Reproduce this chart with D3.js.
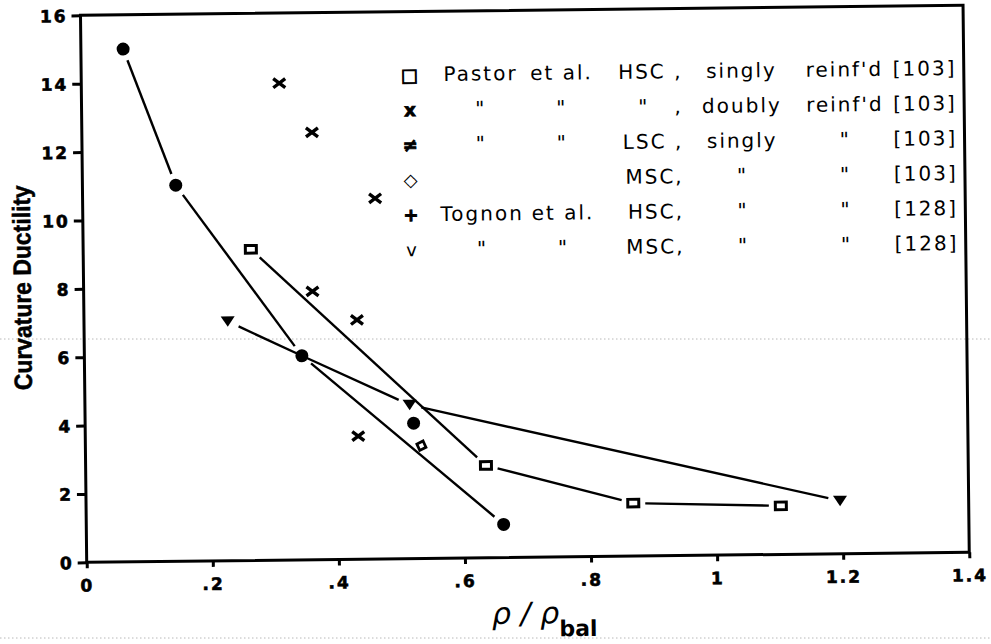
<!DOCTYPE html>
<html>
<head>
<meta charset="utf-8">
<script src="https://cdn.jsdelivr.net/npm/d3@7"></script>
<style>
  html, body { margin: 0; padding: 0; background: #fff; }
  svg { display: block; }
  .tick text { font-family: "DejaVu Sans", sans-serif; font-weight: bold; font-size: 17px; letter-spacing: 2px; fill: #000; stroke: #000; stroke-width: 0.6px; }
  .tick line { stroke: #000; stroke-width: 3; }
  .legend text { font-family: "DejaVu Sans", sans-serif; font-size: 20px; letter-spacing: 2px; white-space: pre; fill: #000; }
</style>
</head>
<body>
<svg id="chart" width="991" height="644"></svg>
<script>
// values: x = rho / rho_bal, y = curvature ductility
const pastorHscSingly = [[0.266, 9.1], [0.635, 2.7], [0.868, 1.55], [1.102, 1.42]];
const pastorHscDoubly = [[0.314, 13.95], [0.365, 12.5], [0.464, 10.55], [0.363, 7.85], [0.433, 7.0], [0.433, 3.6]];
const pastorLsc = [[0.521, 3.96]];
const pastorMsc = [[0.533, 3.3]];
const tognonHsc = [[0.067, 15.0], [0.148, 11.0], [0.345, 5.97], [0.662, 0.97]];
const tognonMsc = [[0.228, 7.0], [0.345, 5.97], [0.515, 4.5], [1.196, 1.55]];
const tognonMscHidden = [1]; // this one sits under a dot, no marker of its own

const xTicks = [0, 0.2, 0.4, 0.6, 0.8, 1, 1.2, 1.4];
const yTicks = [0, 2, 4, 6, 8, 10, 12, 14, 16];

const legendSymbols  = ["\u25a1", "x", "\u2260", "\u25c7", "+", "v"];
const legendAuthors  = ["Pastor", "\"", "\"", "", "Tognon", "\""];
const legendEtAl     = ["et al.", "\"", "\"", "", "et al.", "\""];
const legendConcrete = ["HSC ,", "\"   ,", "LSC ,", "MSC,", "HSC,", "MSC,"];
const legendSteel    = ["singly", "doubly", "singly", "\"", "\"", "\""];
const legendReinf    = ["reinf'd", "reinf'd", "\"", "\"", "\"", "\""];
const legendRefs     = ["[103]", "[103]", "[103]", "[103]", "[128]", "[128]"];

const yLabel = "Curvature Ductility";

// ---- layout
const margin = { left: 86.7, top: 15.3 };
const width = 882.6, height = 547;
const tilt = -0.65; // the scan is a little crooked

const svg = d3.select("#chart");

// faint dotted lines from the scan
svg.selectAll(".scanline")
    .data([339, 638])
    .enter().append("line")
        .attr("class", "scanline")
        .attr("x1", 0).attr("x2", 991)
        .attr("y1", d => d).attr("y2", d => d)
        .attr("stroke", "#b8b8b8")
        .attr("stroke-width", 1)
        .attr("stroke-dasharray", "1.5,2.5");

const g = svg.append("g")
    .attr("transform", `rotate(${tilt}, ${margin.left}, ${margin.top + height}) translate(${margin.left},${margin.top})`);

const x = d3.scaleLinear().domain([0, 1.4]).range([0, width]);
const y = d3.scaleLinear().domain([0, 16]).range([height, 0]);

const fmtX = d => d === 0 ? "0" : String(+d.toFixed(1)).replace(/^0\./, ".");

g.append("g")
    .attr("transform", `translate(0,${height})`)
    .call(d3.axisBottom(x).tickValues(xTicks).tickSize(6).tickSizeOuter(0).tickPadding(11).tickFormat(fmtX))
    .call(a => a.select(".domain").remove());

g.append("g")
    .call(d3.axisLeft(y).tickValues(yTicks).tickSize(9).tickSizeOuter(0).tickPadding(4).tickFormat(d3.format("d")))
    .call(a => a.select(".domain").remove())
    .selectAll(".tick text").attr("dy", "0.36em");

g.append("rect")
    .attr("width", width)
    .attr("height", height)
    .attr("fill", "none")
    .attr("stroke", "#000")
    .attr("stroke-width", 3);

// ---- connecting lines, broken off short of each marker
const gap = 12;
function segments(points, hidden) {
    hidden = hidden || [];
    let segs = [];
    for (let i = 0; i < points.length - 1; i++) {
        let x0 = x(points[i][0]), y0 = y(points[i][1]);
        let x1 = x(points[i + 1][0]), y1 = y(points[i + 1][1]);
        let len = Math.hypot(x1 - x0, y1 - y0);
        let ux = (x1 - x0) / len, uy = (y1 - y0) / len;
        let g0 = hidden.includes(i) ? 0 : gap;
        let g1 = hidden.includes(i + 1) ? 0 : gap;
        segs.push([x0 + ux * g0, y0 + uy * g0, x1 - ux * g1, y1 - uy * g1]);
    }
    return segs;
}

const allSegs = segments(pastorHscSingly)
    .concat(segments(tognonHsc))
    .concat(segments(tognonMsc, tognonMscHidden));

g.append("g").selectAll("line")
    .data(allSegs)
    .enter().append("line")
        .attr("x1", d => d[0]).attr("y1", d => d[1])
        .attr("x2", d => d[2]).attr("y2", d => d[3])
        .attr("stroke", "#000")
        .attr("stroke-width", 2.4);

// ---- markers
const place = d => `translate(${x(d[0])},${y(d[1])})`;

g.append("g").selectAll("rect")
    .data(pastorHscSingly)
    .enter().append("rect")
        .attr("transform", place)
        .attr("x", -5.5).attr("y", -3.8)
        .attr("width", 11).attr("height", 7.6)
        .attr("fill", "#fff")
        .attr("stroke", "#000")
        .attr("stroke-width", 3);

g.append("g").selectAll("path")
    .data(pastorHscDoubly)
    .enter().append("path")
        .attr("transform", place)
        .attr("d", "M-6,-4.5L6,4.5M-6,4.5L6,-4.5")
        .attr("stroke", "#000")
        .attr("stroke-width", 3.4);

g.append("g").selectAll("path")
    .data(tognonMsc.filter((d, i) => !tognonMscHidden.includes(i)))
    .enter().append("path")
        .attr("transform", place)
        .attr("d", "M-7,-5L7,-5L0,5.5Z")
        .attr("fill", "#000");

g.append("g").selectAll("circle")
    .data(tognonHsc.concat(pastorLsc))
    .enter().append("circle")
        .attr("transform", place)
        .attr("r", 6.5)
        .attr("fill", "#000");

g.append("g").selectAll("path")
    .data(pastorMsc)
    .enter().append("path")
        .attr("transform", d => place(d) + " rotate(20)")
        .attr("d", "M0,-5L4.8,0L0,5L-4.8,0Z")
        .attr("fill", "#fff")
        .attr("stroke", "#000")
        .attr("stroke-width", 2.8);

// ---- legend (text columns)
const rowY = i => 85 + 35 * i - margin.top;
const legend = g.append("g").attr("class", "legend");
const columns = [
    { texts: legendSymbols,  x: 415, anchor: "middle", symbol: true },
    { texts: legendAuthors,  x: 486, anchor: "middle" },
    { texts: legendEtAl,     x: 567, anchor: "middle" },
    { texts: legendConcrete, x: 688, anchor: "end" },
    { texts: legendSteel,    x: 747, anchor: "middle" },
    { texts: legendReinf,    x: 850, anchor: "middle" },
    { texts: legendRefs,     x: 962, anchor: "end" }
];
columns.forEach(col => {
    let t = legend.append("g").selectAll("text")
        .data(col.texts)
        .enter().append("text")
            .attr("x", col.x - margin.left)
            .attr("y", (d, i) => rowY(i))
            .attr("text-anchor", col.anchor)
            .text(d => d);
    if (col.symbol) {
        t.style("font-family", "'DejaVu Sans', sans-serif")
            .style("font-size", "18px")
            .style("letter-spacing", "0px")
            .style("font-weight", (d, i) => i === 5 ? "normal" : "bold")
            .attr("stroke", (d, i) => (i === 0 || i === 1 || i === 2 || i === 4) ? "#000" : "none")
            .attr("stroke-width", 0.9);
    }
});

// ---- axis titles
g.append("text")
    .attr("transform", `translate(${25 - margin.left},${287 - margin.top}) rotate(-90)`)
    .attr("text-anchor", "middle")
    .attr("dominant-baseline", "central")
    .attr("textLength", 205)
    .attr("lengthAdjust", "spacingAndGlyphs")
    .attr("stroke", "#000")
    .attr("stroke-width", 0.5)
    .style("font-family", "'Liberation Sans', Arial, sans-serif")
    .style("font-weight", "bold")
    .style("font-size", "25px")
    .text(yLabel);

const xLabel = g.append("text")
    .attr("x", 491.4 - margin.left)
    .attr("y", 628.6 - margin.top)
    .style("font-family", "'DejaVu Sans', sans-serif");
xLabel.append("tspan")
    .style("font-style", "italic")
    .style("font-size", "30px")
    .text("\u03c1 / \u03c1");
xLabel.append("tspan")
    .attr("dy", 13)
    .style("font-weight", "bold")
    .style("font-size", "22px")
    .text("bal");
</script>
</body>
</html>
